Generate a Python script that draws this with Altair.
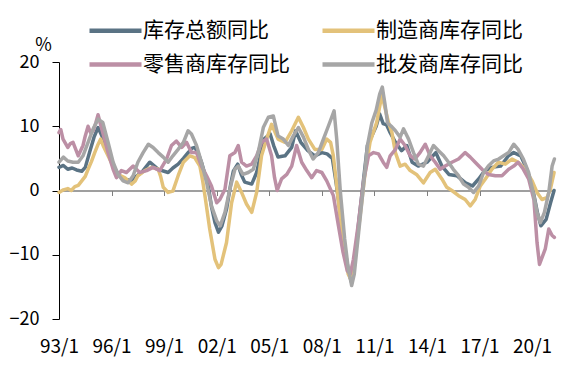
import altair as alt
import pandas as pd

series_names = ["库存总额同比", "制造商库存同比", "零售商库存同比", "批发商库存同比"]
series_colors = ["#5a7384", "#e3c27a", "#bc8fa5", "#a6a6a6"]

# decimal-year time stamps and YoY values (%)
total_t = [1993.0, 1993.25, 1993.5, 1993.75, 1994.0, 1994.3, 1994.5, 1994.75, 1995.0, 1995.23, 1995.5, 1995.8,
           1996.05, 1996.28, 1996.5, 1996.75, 1997.14, 1997.4, 1997.71, 1998.0, 1998.18, 1998.45, 1998.66, 1999.0,
           1999.23, 1999.5, 1999.8, 2000.1, 2000.37, 2000.6, 2000.75, 2000.95, 2001.13, 2001.3, 2001.52, 2001.7,
           2001.9, 2002.1, 2002.3, 2002.56, 2002.8, 2002.95, 2003.2, 2003.4, 2003.6, 2004.0, 2004.28, 2004.5,
           2004.7, 2005.05, 2005.25, 2005.5, 2005.9, 2006.28, 2006.5, 2006.8, 2007.2, 2007.6, 2008.0, 2008.3,
           2008.6, 2008.8, 2009.05, 2009.3, 2009.55, 2009.7, 2009.9, 2010.1, 2010.35, 2010.6, 2010.9, 2011.1,
           2011.3, 2011.5, 2011.7, 2011.9, 2012.2, 2012.55, 2012.85, 2013.15, 2013.5, 2014.0, 2014.5, 2014.85,
           2015.25, 2015.7, 2016.2, 2016.6, 2016.95, 2017.3, 2017.7, 2018.2, 2018.65, 2018.95, 2019.35, 2019.7,
           2020.0, 2020.3, 2020.5, 2020.8, 2021.05, 2021.25]
total_v = [3.6, 3.9, 3.3, 3.5, 3.2, 3.0, 3.6, 6.0, 8.3, 9.8, 8.2, 5.9,
           4.2, 3.0, 2.2, 1.8, 1.5, 2.2, 2.8, 3.8, 4.4, 3.8, 3.3, 3.0,
           2.8, 3.5, 4.1, 5.0, 5.9, 6.6, 6.7, 5.8, 4.4, 2.8, 0.7, -2.5,
           -5.0, -6.5, -5.5, -2.9, 1.0, 3.0, 4.1, 2.5, 1.3, 1.0, 2.8, 5.5,
           8.0, 8.8, 7.0, 5.2, 5.4, 6.7, 9.3, 7.5, 6.2, 5.4, 5.9, 5.7,
           5.0, 1.5, -3.5, -9.0, -13.0, -14.3, -10.5, -5.0, 1.0, 7.0, 8.8, 10.0,
           11.9, 10.4, 10.2, 9.0, 7.5, 6.2, 7.0, 4.4, 3.8, 4.4, 5.9, 3.8,
           2.5, 2.3, 1.2, 0.7, 1.8, 3.1, 3.6, 3.8, 5.4, 5.9, 5.4, 3.3,
           0.7, -3.4, -5.5, -4.5, -1.9, 0.0]

manu_t = [1993.0, 1993.25, 1993.5, 1993.7, 1993.9, 1994.1, 1994.3, 1994.5, 1994.66, 1994.85, 1995.04, 1995.2,
          1995.38, 1995.55, 1995.8, 1996.05, 1996.28, 1996.5, 1996.75, 1997.14, 1997.35, 1997.5, 1997.9, 1998.3,
          1998.66, 1998.8, 1998.95, 1999.23, 1999.5, 1999.8, 2000.1, 2000.47, 2000.75, 2001.04, 2001.2, 2001.35,
          2001.6, 2001.9, 2002.1, 2002.25, 2002.56, 2002.85, 2003.14, 2003.42, 2003.7, 2004.0, 2004.28, 2004.56,
          2004.85, 2005.13, 2005.5, 2005.9, 2006.28, 2006.66, 2006.95, 2007.23, 2007.6, 2008.0, 2008.28, 2008.5,
          2008.65, 2008.8, 2009.05, 2009.3, 2009.5, 2009.68, 2009.9, 2010.18, 2010.47, 2010.75, 2011.13, 2011.42,
          2011.55, 2011.8, 2012.0, 2012.2, 2012.47, 2012.75, 2013.04, 2013.4, 2013.8, 2014.18, 2014.47, 2014.85,
          2015.13, 2015.42, 2015.8, 2016.18, 2016.47, 2016.75, 2017.04, 2017.33, 2017.7, 2018.08, 2018.47, 2018.85,
          2019.2, 2019.6, 2020.0, 2020.28, 2020.56, 2020.85, 2021.04, 2021.25]
manu_v = [-0.3, 0.1, 0.3, 0.0, 0.6, 0.8, 1.5, 2.2, 3.3, 4.5, 5.9, 7.0,
          8.0, 6.8, 5.4, 4.0, 2.8, 2.3, 2.0, 1.0, 1.5, 2.3, 3.1, 3.6,
          3.3, 2.2, 0.5, -0.3, -0.1, 2.3, 4.4, 5.4, 5.1, 3.8, 1.5, -1.2,
          -6.0, -10.7, -12.0, -11.5, -8.1, -1.9, 1.3, -0.3, -2.1, -3.4, -0.3, 5.4,
          8.0, 10.3, 8.0, 7.5, 9.3, 11.4, 9.8, 8.0, 6.4, 6.4, 8.0, 7.5,
          5.5, 2.0, -4.5, -9.5, -13.0, -14.0, -10.2, -4.0, 2.8, 7.5, 10.6, 14.8,
          13.5, 10.6, 9.0, 5.9, 3.8, 4.1, 3.1, 2.5, 1.2, 2.8, 3.3, 1.8,
          0.5, 0.0, -0.8, -1.4, -2.4, -1.4, 0.7, 1.8, 3.3, 4.4, 4.1, 4.9,
          4.4, 3.3, 1.5, -0.3, -1.4, -1.1, 0.2, 2.8]

retail_t = [1993.0, 1993.1, 1993.23, 1993.5, 1993.65, 1993.8, 1994.1, 1994.37, 1994.5, 1994.66, 1994.8, 1994.95,
            1995.1, 1995.23, 1995.35, 1995.5, 1995.8, 1996.09, 1996.28, 1996.56, 1996.85, 1997.23, 1997.6, 1998.0,
            1998.37, 1998.75, 1999.14, 1999.42, 1999.7, 2000.0, 2000.28, 2000.56, 2000.85, 2001.13, 2001.42, 2001.7,
            2002.0, 2002.18, 2002.47, 2002.75, 2003.04, 2003.23, 2003.42, 2003.7, 2004.0, 2004.28, 2004.56, 2004.85,
            2005.13, 2005.3, 2005.45, 2005.7, 2006.0, 2006.28, 2006.56, 2006.85, 2007.14, 2007.42, 2007.7, 2008.0,
            2008.28, 2008.66, 2008.95, 2009.2, 2009.45, 2009.62, 2009.8, 2010.09, 2010.37, 2010.66, 2010.95, 2011.23,
            2011.5, 2011.7, 2011.9, 2012.2, 2012.47, 2012.75, 2013.04, 2013.3, 2013.6, 2013.9, 2014.18, 2014.47,
            2014.75, 2015.04, 2015.42, 2015.8, 2016.18, 2016.47, 2016.75, 2017.14, 2017.5, 2017.9, 2018.28, 2018.66,
            2018.95, 2019.2, 2019.5, 2019.8, 2020.1, 2020.28, 2020.42, 2020.75, 2020.95, 2021.14, 2021.27]
retail_v = [9.0, 9.5, 8.0, 6.7, 7.3, 7.5, 5.4, 7.0, 8.5, 10.0, 9.0, 9.3,
            10.5, 11.8, 10.5, 9.0, 5.9, 3.3, 2.0, 3.1, 2.8, 3.8, 2.8, 3.1,
            3.6, 3.1, 4.9, 7.0, 7.7, 6.7, 7.5, 5.9, 5.9, 3.8, 2.3, 0.7,
            -1.9, -1.4, 0.2, 5.4, 5.9, 7.0, 4.4, 3.8, 4.1, 5.4, 7.5, 8.0,
            5.4, 2.0, 0.0, 1.8, 2.5, 3.8, 7.0, 4.4, 3.1, 2.0, 3.1, 2.8,
            1.5, -0.8, -5.5, -9.5, -12.5, -13.0, -10.7, -5.0, 1.3, 5.4, 5.9, 5.7,
            4.4, 3.6, 5.4, 6.4, 8.0, 7.0, 5.4, 4.9, 5.9, 7.2, 5.4, 4.4,
            3.3, 3.8, 4.4, 4.9, 5.9, 5.2, 4.4, 3.3, 2.5, 2.3, 2.3, 3.3,
            3.8, 4.4, 3.3, 1.8, -1.4, -8.1, -11.5, -9.1, -6.0, -7.0, -7.3]

whole_t = [1993.0, 1993.25, 1993.5, 1993.8, 1994.1, 1994.37, 1994.66, 1994.95, 1995.23, 1995.5, 1995.8, 1996.09,
           1996.37, 1996.66, 1996.95, 1997.23, 1997.5, 1997.8, 1998.1, 1998.37, 1998.66, 1998.95, 1999.23, 1999.5,
           1999.8, 2000.1, 2000.37, 2000.56, 2000.85, 2001.13, 2001.42, 2001.7, 2002.0, 2002.2, 2002.47, 2002.75,
           2003.04, 2003.23, 2003.5, 2003.8, 2004.09, 2004.37, 2004.66, 2004.95, 2005.23, 2005.5, 2005.8, 2006.09,
           2006.37, 2006.66, 2006.95, 2007.23, 2007.5, 2007.8, 2008.09, 2008.37, 2008.7, 2008.85, 2009.05, 2009.3,
           2009.5, 2009.7, 2009.85, 2010.1, 2010.35, 2010.6, 2010.85, 2011.1, 2011.3, 2011.45, 2011.6, 2011.75,
           2012.0, 2012.2, 2012.47, 2012.66, 2012.95, 2013.23, 2013.5, 2013.8, 2014.09, 2014.37, 2014.66, 2014.95,
           2015.23, 2015.5, 2015.8, 2016.09, 2016.37, 2016.66, 2016.95, 2017.23, 2017.5, 2017.8, 2018.09, 2018.37,
           2018.66, 2018.95, 2019.2, 2019.5, 2019.8, 2020.1, 2020.28, 2020.47, 2020.7, 2020.95, 2021.14, 2021.27]
whole_v = [4.4, 5.2, 4.6, 4.4, 4.4, 5.4, 7.5, 9.6, 11.1, 10.6, 7.5, 4.4,
           2.5, 1.5, 1.2, 2.3, 4.4, 5.9, 7.2, 6.7, 5.9, 5.2, 4.4, 5.4,
           6.4, 7.5, 9.3, 8.8, 7.0, 4.4, 1.3, -2.4, -4.7, -5.5, -3.4, 0.2,
           3.3, 3.8, 2.5, 2.8, 3.3, 5.9, 9.8, 11.4, 11.6, 8.5, 8.0, 7.0,
           8.5, 9.8, 8.3, 6.4, 4.9, 5.9, 8.0, 10.0, 12.4, 8.0, 0.0, -7.5,
           -12.0, -14.8, -13.0, -6.5, 0.0, 7.0, 10.5, 12.5, 15.0, 16.1, 13.5, 10.5,
           9.9, 9.3, 8.3, 9.6, 8.0, 5.9, 4.1, 3.8, 5.4, 7.0, 6.2, 5.4,
           4.4, 3.3, 2.3, 1.0, 0.5, -0.3, 0.7, 2.8, 3.8, 4.6, 4.9, 5.4,
           5.9, 7.2, 6.4, 4.9, 2.8, -0.8, -3.4, -5.0, -3.4, -0.3, 3.8, 4.9]

x_ticks = ["1993-01-01", "1996-01-01", "1999-01-01", "2002-01-01", "2005-01-01",
           "2008-01-01", "2011-01-01", "2014-01-01", "2017-01-01", "2020-01-01"]
y_ticks = [-20, -10, 0, 10, 20]


def to_date(t):
    y = int(t)
    return pd.Timestamp(f"{y}-01-01") + pd.Timedelta(days=(t - y) * 365.25)


rows = []
for name, ts, vs in zip(series_names, [total_t, manu_t, retail_t, whole_t],
                        [total_v, manu_v, retail_v, whole_v]):
    for t, v in zip(ts, vs):
        rows.append({"date": to_date(t), "value": v, "series": name})
df = pd.DataFrame(rows)

FONT = "Noto Sans CJK SC"
W, H = 495, 257

chart = alt.Chart(df).mark_line(strokeWidth=3.5, strokeJoin="round", strokeCap="round").encode(
    x=alt.X("date:T",
            scale=alt.Scale(domain=["1993-01-01", "2021-04-01"]),
            axis=alt.Axis(values=x_ticks, labelExpr="timeFormat(datum.value, '%y') + '/1'",
                          orient="bottom", offset=-H / 2, domainColor="#7f7f7f", domainWidth=1.6,
                          tickColor="#7f7f7f", tickSize=5, tickWidth=1, labelPadding=142,
                          labelFlush=False, labelFont=FONT, labelFontSize=19, labelColor="#000000",
                          grid=False, title=None)),
    y=alt.Y("value:Q",
            scale=alt.Scale(domain=[-20, 20], nice=False, zero=False),
            axis=alt.Axis(values=y_ticks, domainColor="#000000", domainWidth=1, tickColor="#000000",
                          tickSize=7, tickWidth=1, labelPadding=13, labelFont=FONT, labelFontSize=18,
                          labelColor="#000000", grid=False, title="%", titleAngle=0, titleX=-16,
                          titleY=-17, titleAlign="center", titleBaseline="middle", titleFont=FONT,
                          titleFontSize=18, titleFontWeight="normal", titleColor="#000000")),
    color=alt.Color("series:N",
                    scale=alt.Scale(domain=series_names, range=series_colors),
                    sort=series_names,
                    legend=alt.Legend(orient="none", legendX=44, legendY=-44, columns=2,
                                      direction="horizontal",
                                      symbolType="M-2.6,0H2.6", symbolSize=400, symbolStrokeWidth=4.5,
                                      labelFont=FONT, labelFontSize=21, labelColor="#000000",
                                      labelOffset=15, columnPadding=23, rowPadding=11, gridAlign="all",
                                      padding=0, labelLimit=0, title=None)),
    order=alt.Order("series_order:Q"),
).transform_calculate(
    series_order="indexof(" + str(series_names) + ", datum.series)"
).properties(
    width=W, height=H,
    autosize=alt.AutoSizeParams(type="none"),
    padding={"left": 51, "top": 54, "right": 12, "bottom": 38},
).configure_view(stroke=None)

chart.save("out.html", embed_options={"renderer": "svg", "actions": False})
